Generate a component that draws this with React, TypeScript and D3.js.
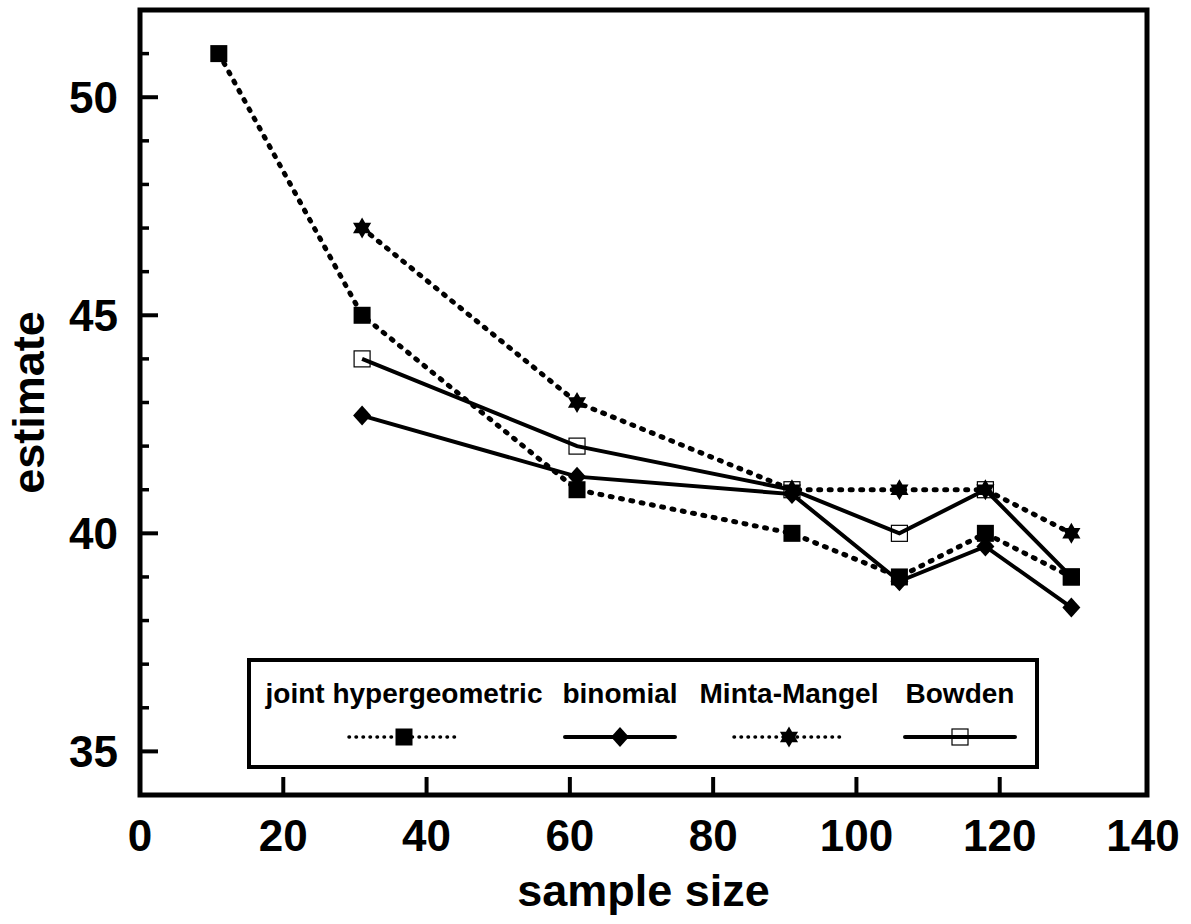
import { scaleLinear, line, curveLinear, range } from "d3"

// data
const sampleSizes = [11, 31, 61, 91, 106, 118, 130]
const hyperValues = [51, 45, 41, 40, 39, 40, 39]
const binomialSizes = [31, 61, 91, 106, 118, 130]
const binomialValues = [42.7, 41.3, 40.9, 38.9, 39.7, 38.3]
const mintaSizes = [31, 61, 91, 106, 118, 130]
const mintaValues = [47, 43, 41, 41, 41, 40]
const bowdenSizes = [31, 61, 91, 106, 118, 130]
const bowdenValues = [44, 42, 41, 40, 41, 39]

const xTicks = [0, 20, 40, 60, 80, 100, 120, 140]
const yTicks = [35, 40, 45, 50]
const seriesNames = ["joint hypergeometric", "binomial", "Minta-Mangel", "Bowden"]

// layout
const W = 1191
const H = 924
const frame = { left: 140, right: 1147, top: 10, bottom: 795 }
const FONT = "'Liberation Sans', Arial, Helvetica, sans-serif"
const legendBox = { x: 249, y: 660, w: 788, h: 107 }
const legendCenters = [404, 620, 789, 960]

type Marker = "square" | "diamond" | "star" | "open"

const starPath = (R: number) => {
    const r = R / Math.sqrt(3)
    const pts = range(12).map(i => {
        const a = -Math.PI / 2 + i * Math.PI / 6
        const rad = i % 2 === 0 ? R : r
        return [Math.cos(a) * rad, Math.sin(a) * rad]
    })
    return "M" + pts.map(p => p.join(",")).join("L") + "Z"
}

const MarkerShape = ({ kind, x, y }: { kind: Marker, x: number, y: number }) => {
    if (kind === "square") return <rect x={x - 8.5} y={y - 8.5} width={17} height={17} fill="#000" />
    if (kind === "open") return <rect x={x - 8} y={y - 8} width={16} height={16} fill="none" stroke="#000" strokeWidth={1.2} />
    if (kind === "diamond") return <path d={`M${x},${y - 10}L${x + 9},${y}L${x},${y + 10}L${x - 9},${y}Z`} fill="#000" />
    return <path d={starPath(10.5)} transform={`translate(${x},${y})`} fill="#000" />
}

export default function App() {
    const x = scaleLinear([0, 140], [frame.left, 1143])
    const y = scaleLinear([34, 52], [frame.bottom, frame.top])

    const series = [
        { xs: sampleSizes, ys: hyperValues, marker: "square" as Marker, dotted: true },
        { xs: binomialSizes, ys: binomialValues, marker: "diamond" as Marker, dotted: false },
        { xs: mintaSizes, ys: mintaValues, marker: "star" as Marker, dotted: true },
        { xs: bowdenSizes, ys: bowdenValues, marker: "open" as Marker, dotted: false },
    ]

    const pathFor = (xs: number[], ys: number[]) =>
        line<number>()
            .x((_, i) => x(xs[i]))
            .y(d => y(d))
            .curve(curveLinear)(ys) || ""

    const minorY = range(34, 53).filter(v => !yTicks.includes(v))

    return (
        <svg width={W} height={H} style={{ position: "absolute", left: 0, top: 0, background: "#fff" }}
            fontFamily={FONT} fontWeight="bold">
            {/* series lines */}
            {series.map((s, i) => (
                <path key={"l" + i} d={pathFor(s.xs, s.ys)} fill="none" stroke="#000"
                    strokeWidth={s.dotted ? 5 : 4}
                    strokeDasharray={s.dotted ? "2 8.5" : undefined}
                    strokeLinecap={s.dotted ? "round" : "butt"} strokeLinejoin="miter" />
            ))}
            {/* markers */}
            {series.map((s, i) => s.ys.map((v, j) => (
                <MarkerShape key={`m${i}-${j}`} kind={s.marker} x={x(s.xs[j])} y={y(v)} />
            )))}

            {/* y ticks */}
            {minorY.map(v => (
                <line key={"ym" + v} x1={frame.left} x2={frame.left + 9} y1={y(v)} y2={y(v)} stroke="#000" strokeWidth={3.5} />
            ))}
            {yTicks.map(v => (
                <g key={"y" + v}>
                    <line x1={frame.left} x2={frame.left + 18} y1={y(v)} y2={y(v)} stroke="#000" strokeWidth={4} />
                    <text x={118} y={y(v) + 16} textAnchor="end" fontSize={44}>{v}</text>
                </g>
            ))}

            {/* x ticks */}
            {xTicks.map(v => (
                <g key={"x" + v}>
                    {v > 0 && v < 140 && (
                        <line x1={x(v)} x2={x(v)} y1={frame.bottom} y2={frame.bottom - 18} stroke="#000" strokeWidth={4} />
                    )}
                    <text x={x(v)} y={851} textAnchor="middle" fontSize={44}>{v}</text>
                </g>
            ))}

            {/* frame */}
            <rect x={frame.left} y={frame.top} width={frame.right - frame.left} height={frame.bottom - frame.top}
                fill="none" stroke="#000" strokeWidth={5} />

            {/* axis titles */}
            <text x={(frame.left + frame.right) / 2} y={906} textAnchor="middle" fontSize={45}>sample size</text>
            <text transform={`translate(44,${(frame.top + frame.bottom) / 2}) rotate(-90)`} textAnchor="middle" fontSize={45}>estimate</text>

            {/* legend */}
            <rect x={legendBox.x} y={legendBox.y} width={legendBox.w} height={legendBox.h} fill="#fff" stroke="#000" strokeWidth={4} />
            {seriesNames.map((name, i) => {
                const cx = legendCenters[i]
                const s = series[i]
                return (
                    <g key={"lg" + i}>
                        <text x={cx} y={703} textAnchor="middle" fontSize={28}>{name}</text>
                        <line x1={cx - 55} x2={cx + 55} y1={737} y2={737} stroke="#000"
                            strokeWidth={s.dotted ? 3.5 : 4}
                            strokeDasharray={s.dotted ? "0.5 6.5" : undefined}
                            strokeLinecap="round" />
                        <MarkerShape kind={s.marker} x={cx} y={737} />
                    </g>
                )
            })}
        </svg>
    )
}
